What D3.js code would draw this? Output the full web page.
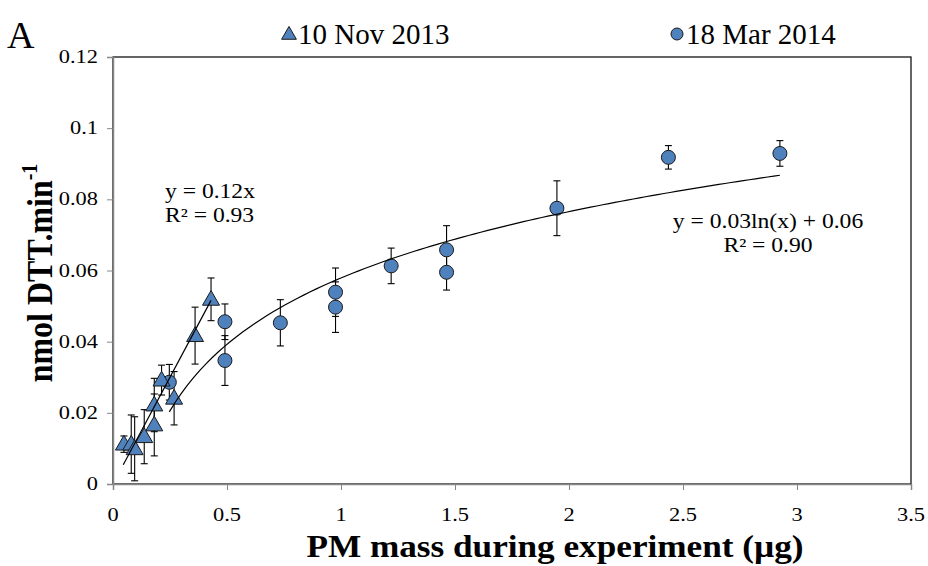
<!DOCTYPE html>
<html>
<head>
<meta charset="utf-8">
<script src="https://cdn.jsdelivr.net/npm/d3@7"></script>
<style>
  html, body { margin: 0; padding: 0; background: #fff; }
  svg { display: block; }
  text { font-family: "Liberation Serif", "Times New Roman", serif; fill: #000; }
</style>
</head>
<body>
<svg id="chart" width="928" height="566"></svg>
<script>
// 10 Nov 2013 (triangles)
const novX   = [0.048, 0.080, 0.095, 0.137, 0.181, 0.181, 0.213, 0.268, 0.360, 0.430];
const novY   = [0.0112, 0.0112, 0.0099, 0.0133, 0.0222, 0.0166, 0.0292, 0.0241, 0.0417, 0.0519];
const novErr = [0.0023, 0.0082, 0.0090, 0.0076, 0.0075, 0.0087, 0.0042, 0.0075, 0.0080, 0.0060];

// 18 Mar 2014 (circles)
const marX   = [0.247, 0.491, 0.491, 0.734, 0.976, 0.976, 1.220, 1.463, 1.463, 1.947, 2.436, 2.925];
const marY   = [0.0286, 0.0456, 0.0347, 0.0453, 0.0539, 0.0497, 0.0613, 0.0658, 0.0595, 0.0775, 0.0918, 0.0929];
const marErr = [0.0050, 0.0050, 0.0070, 0.0065, 0.0068, 0.0071, 0.0050, 0.0068, 0.0050, 0.0077, 0.0033, 0.0036];

// trendlines (unrounded fit coefficients)
const linSlope = 0.12, linRange = [0.045, 0.43];
const logA = 0.0269, logB = 0.0579, logRange = [0.247, 2.925];

const xTicks = [0, 0.5, 1, 1.5, 2, 2.5, 3, 3.5];
const yTicks = [0, 0.02, 0.04, 0.06, 0.08, 0.1, 0.12];

const C_FILL = '#4f81bd';
const C_AXIS = '#868686';
const SX = 1.18; // horizontal stretch of the text in the reference

const svg = d3.select('#chart');
const L = 113, R = 911, T = 57, B = 484;

const x = d3.scaleLinear().domain([0, 3.5]).range([L, R]);
const y = d3.scaleLinear().domain([0, 0.12]).range([B, T]);

// text helper: stretched horizontally like the picture
function label(px, py, str, size, anchor, weight, sx) {
  const t = svg.append('text')
    .attr('transform', `translate(${px},${py}) scale(${sx || SX},1)`)
    .attr('font-size', size)
    .attr('text-anchor', anchor || 'start')
    .attr('font-weight', weight || 'normal')
    .text(str);
  return t;
}

// plot frame
svg.append('rect')
  .attr('x', L).attr('y', T).attr('width', R - L).attr('height', B - T)
  .attr('fill', 'none').attr('stroke', '#000').attr('stroke-width', 1.2);

// axes
const yAxis = svg.append('g').attr('transform', `translate(${L},0)`)
  .call(d3.axisLeft(y).tickValues(yTicks).tickSize(6).tickFormat(''));
const xAxis = svg.append('g').attr('transform', `translate(0,${B})`)
  .call(d3.axisBottom(x).tickValues(xTicks).tickSize(6).tickFormat(''));
[yAxis, xAxis].forEach(a => {
  a.select('.domain').attr('stroke', C_AXIS).attr('stroke-width', 1.5);
  a.selectAll('.tick line').attr('stroke', C_AXIS).attr('stroke-width', 1);
});

yTicks.forEach(v => label(L - 15, y(v) + 6, d3.format('')(v), 19, 'end'));
xTicks.forEach(v => label(x(v), B + 37, d3.format('')(v), 19, 'middle'));

// axis titles
svg.append('text')
  .attr('transform', `translate(52,273) scale(1.12,1) rotate(-90)`)
  .attr('font-size', 32).attr('font-weight', 'bold').attr('text-anchor', 'middle')
  .call(t => {
    t.append('tspan').text('nmol DTT.min');
    t.append('tspan').attr('font-size', 20).attr('dy', -13).text('-1');
  });
label(555, 557, 'PM mass during experiment (µg)', 32, 'middle', 'bold', 1.1);

// panel letter
label(7, 48, 'A', 38, 'start', 'normal', 1.0);

// error bars
function errorBars(xs, ys, es) {
  const g = svg.append('g').attr('stroke', '#000').attr('stroke-width', 1.1);
  xs.forEach((xv, i) => {
    const cx = x(xv), y0 = y(ys[i] - es[i]), y1 = y(ys[i] + es[i]);
    g.append('line').attr('x1', cx).attr('x2', cx).attr('y1', y0).attr('y2', y1);
    g.append('line').attr('x1', cx - 3.5).attr('x2', cx + 3.5).attr('y1', y0).attr('y2', y0);
    g.append('line').attr('x1', cx - 3.5).attr('x2', cx + 3.5).attr('y1', y1).attr('y2', y1);
  });
}
errorBars(marX, marY, marErr);
errorBars(novX, novY, novErr);

const tri = d3.symbol().type(d3.symbolTriangle).size(125);

svg.append('g').selectAll('circle')
  .data(marX.map((v, i) => [v, marY[i]]))
  .join('circle')
  .attr('cx', d => x(d[0])).attr('cy', d => y(d[1])).attr('r', 7)
  .attr('fill', C_FILL).attr('stroke', '#1a1a1a').attr('stroke-width', 1);

svg.append('g').selectAll('path')
  .data(novX.map((v, i) => [v, novY[i]]))
  .join('path')
  .attr('d', tri)
  .attr('transform', d => `translate(${x(d[0])},${y(d[1]) + 1})`)
  .attr('fill', C_FILL).attr('stroke', '#1a1a1a').attr('stroke-width', 1);

// trendlines
svg.append('line')
  .attr('x1', x(linRange[0])).attr('y1', y(linSlope * linRange[0]))
  .attr('x2', x(linRange[1])).attr('y2', y(linSlope * linRange[1]))
  .attr('stroke', '#000').attr('stroke-width', 1.2);

const logPts = d3.range(0, 101).map(i => {
  const xv = logRange[0] + (logRange[1] - logRange[0]) * i / 100;
  return [xv, logA * Math.log(xv) + logB];
});
svg.append('path')
  .attr('d', d3.line().x(d => x(d[0])).y(d => y(d[1]))(logPts))
  .attr('fill', 'none').attr('stroke', '#000').attr('stroke-width', 1.2);

// fit labels
label(165, 198, 'y = 0.12x', 20, 'start');
label(165, 222, 'R² = 0.93', 20, 'start');
label(768, 228, 'y = 0.03ln(x) + 0.06', 20, 'middle');
label(768, 252, 'R² = 0.90', 20, 'middle');

// legend
svg.append('path').attr('d', d3.symbol().type(d3.symbolTriangle).size(95)).attr('transform', 'translate(289,35)')
  .attr('fill', C_FILL).attr('stroke', '#1a1a1a').attr('stroke-width', 1);
label(298, 44, '10 Nov 2013', 29, 'start', 'normal', 1.0);
svg.append('circle').attr('cx', 677).attr('cy', 34).attr('r', 6)
  .attr('fill', C_FILL).attr('stroke', '#1a1a1a').attr('stroke-width', 1);
label(686, 44, '18 Mar 2014', 29, 'start', 'normal', 1.0);
</script>
</body>
</html>
